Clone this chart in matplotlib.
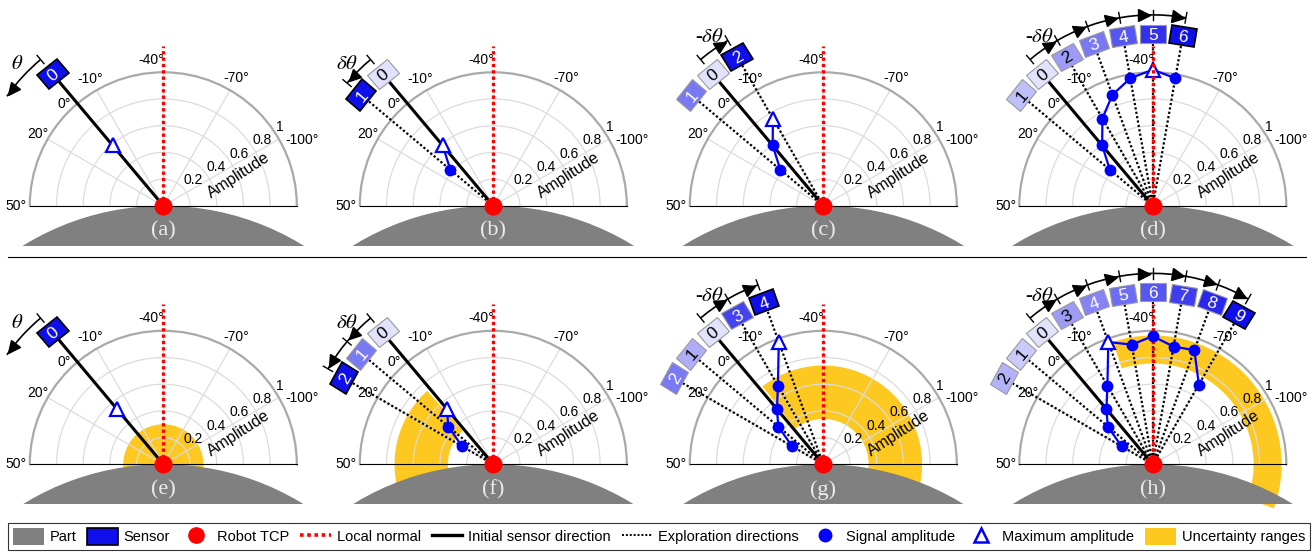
import numpy as np
import matplotlib.pyplot as plt
from matplotlib.markers import MarkerStyle
from matplotlib.transforms import Affine2D, offset_copy
from matplotlib.patches import Circle, Rectangle, Wedge, Arc, Patch
from matplotlib.lines import Line2D

plt.rcParams['font.family'] = ['Liberation Sans', 'DejaVu Sans']
plt.rcParams['mathtext.fontset'] = 'stix'

# sensor angles (deg) in the order they are visited, and the signal amplitude measured there
top_angles = [0, 10, -10, -20, -30, -40, -50]
top_amps = [0.59, 0.42, 0.755, 0.885, 0.97, 1.02, 0.97]
top_visited = [1, 2, 3, 7]
top_arcs = [[0, 15], [0, 10], [0, -10], [0, -10, -20, -30, -40, -50]]

bottom_angles = [0, 10, 20, -10, -20, -30, -40, -50, -60, -70]
bottom_amps = [0.54, 0.44, 0.27, 0.68, 0.975, 0.91, 0.96, 0.895, 0.91, 0.69]
bottom_visited = [1, 3, 5, 10]
bottom_arcs = [[0, 15], [0, 10, 20], [0, -10, -20],
               [0, -10, -20, -30, -40, -50, -60, -70]]

# uncertainty ranges (bottom row): radius span and angle span in deg
unc_r_in = [0.0, 0.34, 0.34, 0.755]
unc_r_out = [0.30, 0.74, 0.74, 0.965]
unc_a_from = [-150, 2, -150, -150]
unc_a_to = [70, 70, -2, -22]

arc_labels = [r'$\theta$', r'$\delta\theta$', r'-$\delta\theta$', r'-$\delta\theta$']
top_names = ['(a)', '(b)', '(c)', '(d)']
bottom_names = ['(e)', '(f)', '(g)', '(h)']
normal_angle = -40
theta_ticks = [50, 20, -10, -40, -70, -100]
r_ticks = [0.2, 0.4, 0.6, 0.8]
r_rings = [0.2, 0.4, 0.6, 0.8, 1.0]
r_labels = ['0.2', '0.4', '0.6', '0.8', '1']

legend_labels = ['Part', 'Sensor', 'Robot TCP', 'Local normal', 'Initial sensor direction',
                 'Exploration directions', 'Signal amplitude', 'Maximum amplitude',
                 'Uncertainty ranges']

OFFSET = 130          # screen angle of the 0 deg direction
BLUE = np.array([0.06, 0.06, 0.92])
GREY = '#808080'
YELLOW = '#fdc81f'
# where the angle labels sit (angle, radius)
theta_label_pos = [(50, 1.10), (20.3, 1.08), (-10, 1.10), (-35.4, 1.096),
                   (-69.7, 1.10), (-104.6, 1.15)]


def sensor_color(a):
    return tuple((1 - a) * np.ones(3) + a * BLUE)


def draw_panel(fig, ax, angles, amps, n, arc, label, name, unc=None):
    ax.set_theta_offset(np.radians(OFFSET))
    ax.set_thetamin(-130)
    ax.set_thetamax(50)
    ax.set_rlim(0, 1)
    ax.set_rticks(r_ticks)
    ax.set_yticklabels([])
    ax.set_thetagrids(theta_ticks + [-130], labels=[''] * 7)
    ax.tick_params(length=0, pad=0)
    ax.grid(True, color='#dcdcdc', lw=0.9)
    ax.spines['polar'].set_color('#a9a9a9')
    ax.spines['polar'].set_linewidth(1.6)
    for s in ('start', 'end', 'inner'):
        ax.spines[s].set_visible(False)

    # plain x/y frame in units of the outer radius, origin at the TCP
    cart = ax.transProjectionAffine + ax.transWedge + ax.transAxes

    if unc is not None:
        r_in, r_out, a0, a1 = unc
        ax.add_patch(Wedge((0, 0), r_out, a0 + OFFSET, a1 + OFFSET, width=r_out - r_in,
                           transform=cart, color=YELLOW, lw=0, zorder=1.0, clip_on=False))

    part = Circle((0, -2.0), 2.0, color=GREY, lw=0, transform=cart, zorder=1.2)
    ax.add_patch(part)
    part.set_clip_path(Rectangle((-1.3, -0.3), 2.6, 0.3, transform=cart))
    ax.text(0, -0.19, name, transform=cart, ha='center', va='center', fontsize=16,
            family='Liberation Serif', color='#ececec', zorder=2)

    # labels
    for t, (la, lr) in zip(theta_ticks, theta_label_pos):
        ax.text(np.radians(la), lr, f'{t}°', ha='center', va='center', fontsize=10)
    ax.text(np.radians(4), 1.065, '0°', ha='center', va='center', fontsize=10)
    shifted = offset_copy(ax.transData, fig=fig, x=-3, y=12, units='dots')
    for rv, lab in zip(r_rings, r_labels):
        ax.text(np.radians(-100), rv, lab, transform=shifted, ha='left', va='center',
                fontsize=10)
    ax.text(np.radians(-108), 0.61, 'Amplitude', rotation=33, rotation_mode='anchor',
            ha='center', va='center', fontsize=11.5)

    # directions
    ax.plot([0, 0], [0, 1.25], color='k', lw=2.2, zorder=3, clip_on=False)
    for a in angles[1:n]:
        ax.plot([np.radians(a)] * 2, [0, 1.25], color='k', lw=1.6, ls=(0, (1, 1)),
                zorder=2.8, clip_on=False)
    ax.plot([np.radians(normal_angle)] * 2, [0, 1.2], color='red', lw=2.4,
            ls=(0, (1, 0.9)), zorder=4.5, clip_on=False)

    # signal amplitudes
    va_ = np.array(angles[:n], dtype=float)
    vr_ = np.array(amps[:n])
    order = np.argsort(va_)
    ax.plot(np.radians(va_[order]), vr_[order], color='blue', lw=1.6, zorder=3.5,
            clip_on=False)
    imax = int(np.argmax(vr_))
    rest = [i for i in range(n) if i != imax]
    if rest:
        ax.plot(np.radians(va_[rest]), vr_[rest], 'o', color='blue', ms=7.5, zorder=5,
                clip_on=False)
    ax.plot(np.radians(va_[imax]), vr_[imax], '^', mfc='white', mec='blue', mew=1.6,
            ms=10.5, zorder=4, clip_on=False)
    ax.plot(0, 0, 'o', color='red', ms=12, zorder=6, clip_on=False)

    # sensor boxes
    for i in range(n):
        a = 0.12 + 0.88 * i / (n - 1) if n > 1 else 1.0
        th = np.radians(angles[i])
        rot = angles[i] + OFFSET - 90
        box = MarkerStyle('s', transform=Affine2D().scale(1.35, 1.0).rotate_deg(rot))
        newest = i == n - 1
        ax.plot([th], [1.29], marker=box, ms=13.5, mfc=sensor_color(a),
                mec='black' if newest else '#9a9a9a', mew=1.2 if newest else 0.8,
                ls='none', zorder=7, clip_on=False)
        ax.text(th, 1.29, str(i), rotation=rot, rotation_mode='anchor', ha='center',
                va='center_baseline', fontsize=12.5,
                color='white' if a > 0.45 else 'black', zorder=7.5)

    # rotation arrows above the sensors
    R_ARC = 1.43
    for k in range(len(arc) - 1):
        a0, a1 = arc[k], arc[k + 1]
        t1, t2 = sorted([a0 + OFFSET, a1 + OFFSET])
        ax.add_patch(Arc((0, 0), 2 * R_ARC, 2 * R_ARC, theta1=t1, theta2=t2,
                         transform=cart, color='k', lw=1.2, clip_on=False, zorder=6))
        d = np.sign(a1 - a0)
        tip = a1 - 2.5 * d
        head = MarkerStyle('>', transform=Affine2D().rotate_deg(tip + OFFSET + 90 * d))
        ax.plot([np.radians(tip)], [R_ARC], marker=head, ms=8.5, color='k', ls='none',
                zorder=6, clip_on=False)
    nodes = arc[:1] if label == r'$\theta$' else arc
    for a in nodes:
        ax.plot([np.radians(a)] * 2, [1.39, 1.47], color='k', lw=1.0, zorder=6,
                clip_on=False)
    d0 = np.sign(arc[1] - arc[0])
    ax.text(np.radians(arc[0] + 6 * d0), 1.52, label, ha='center', va='center',
            fontsize=15, family='Liberation Serif')


fig = plt.figure(figsize=(13.14, 5.52), dpi=100)
W, H = 1314, 552
R = 133.5
xc = [163.3, 493.3, 823.3, 1152.8]
yc = [205.8, 464.3]

# polar axes keep a square box and centre the half disc in it
for j in range(4):
    for row in range(2):
        ax = fig.add_axes([(xc[j] - R) / W, (H - yc[row] - R / 2) / H, 2 * R / W, 2 * R / H],
                          projection='polar')
        if row == 0:
            draw_panel(fig, ax, top_angles, top_amps, top_visited[j], top_arcs[j],
                       arc_labels[j], top_names[j])
        else:
            draw_panel(fig, ax, bottom_angles, bottom_amps, bottom_visited[j],
                       bottom_arcs[j], arc_labels[j], bottom_names[j],
                       unc=(unc_r_in[j], unc_r_out[j], unc_a_from[j], unc_a_to[j]))

fig.add_artist(Line2D([8 / W, 1306 / W], [1 - 257 / H] * 2, color='k', lw=0.8))

handles = [Patch(fc=GREY, ec='none'),
           Patch(fc=sensor_color(1.0), ec='k', lw=1.2),
           Line2D([], [], marker='o', ls='none', color='red', ms=11),
           Line2D([], [], color='red', lw=2.6, ls=(0, (1, 1))),
           Line2D([], [], color='k', lw=2.4),
           Line2D([], [], color='k', lw=1.4, ls=(0, (1, 1))),
           Line2D([], [], marker='o', ls='none', color='blue', ms=9),
           Line2D([], [], marker='^', ls='none', mfc='white', mec='blue', mew=1.8, ms=10),
           Patch(fc=YELLOW, ec='none')]
leg = fig.legend(handles, legend_labels, loc='lower left',
                 bbox_to_anchor=(8 / W, 2 / H, 1302 / W, 0.05), mode='expand', ncol=9,
                 fontsize=10.5, frameon=True, fancybox=False, edgecolor='k',
                 handlelength=2.1, handleheight=1.4, handletextpad=0.4, borderpad=0.35,
                 borderaxespad=0)
leg.get_frame().set_linewidth(0.8)

fig.savefig('out.png', dpi=100)
